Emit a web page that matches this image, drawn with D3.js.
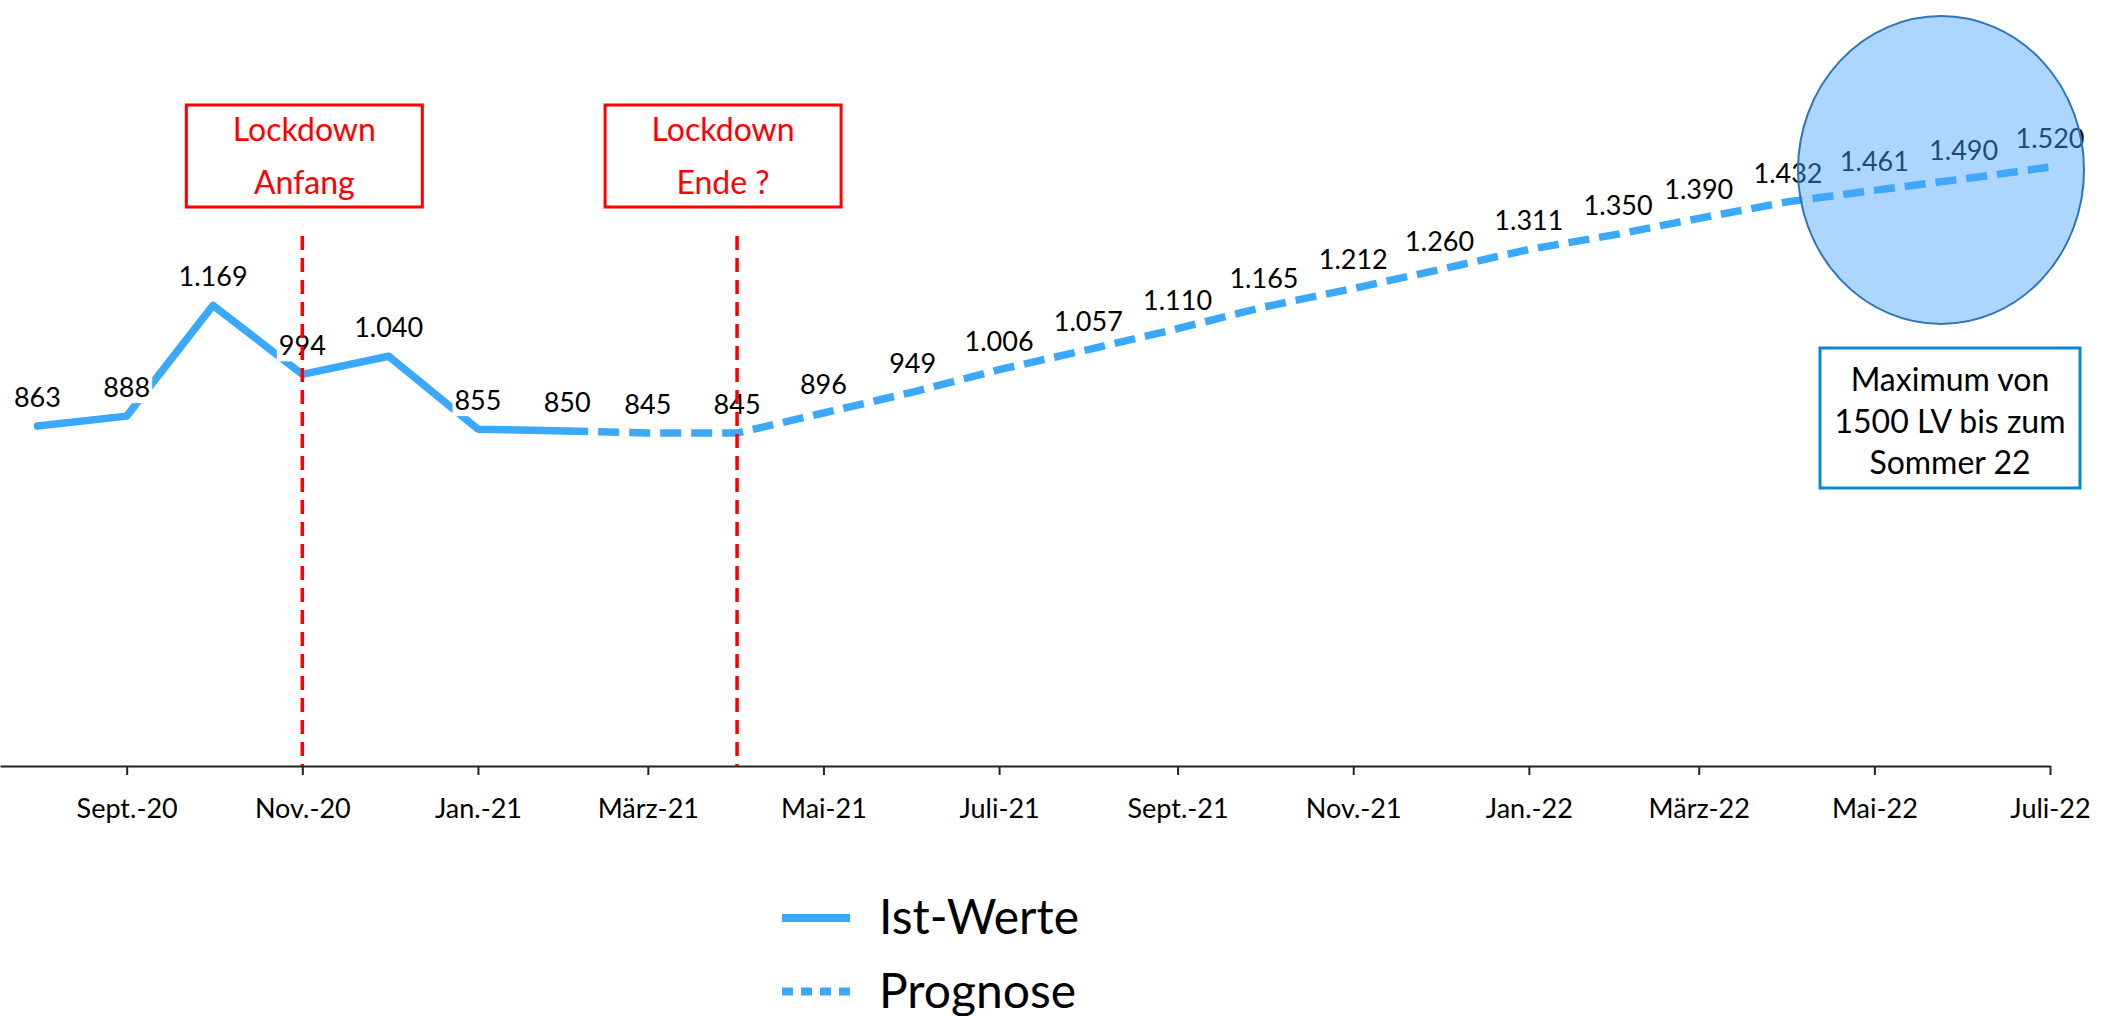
<!DOCTYPE html>
<html>
<head>
<meta charset="utf-8">
<script src="https://cdn.jsdelivr.net/npm/d3@7"></script>
<style>
  html, body { margin: 0; padding: 0; background: #fff; }
  svg text { font-family: Lato, "Open Sans", sans-serif; }
</style>
</head>
<body>
<svg id="chart"></svg>
<script>
// monthly values, Aug 2020 - Jul 2022
var months = ["2020-08", "2020-09", "2020-10", "2020-11", "2020-12", "2021-01", "2021-02",
              "2021-03", "2021-04", "2021-05", "2021-06", "2021-07", "2021-08", "2021-09",
              "2021-10", "2021-11", "2021-12", "2022-01", "2022-02", "2022-03", "2022-04",
              "2022-05", "2022-06", "2022-07"]
var istWerte = [863, 888, 1169, 994, 1040, 855, 850]
var prognose = [850, 845, 845, 896, 949, 1006, 1057, 1110, 1165, 1212, 1260, 1311,
                1350, 1390, 1432, 1461, 1490, 1520]
var tickLabels = ["Sept.-20", "Nov.-20", "Jan.-21", "März-21", "Mai-21", "Juli-21",
                  "Sept.-21", "Nov.-21", "Jan.-22", "März-22", "Mai-22", "Juli-22"]
var lockdowns = [
  { date: "2020-11", lines: ["Lockdown", "Anfang"], shift: 2 },
  { date: "2021-04", lines: ["Lockdown", "Ende ?"], shift: -14 }
]
var noteLines = ["Maximum von", "1500 LV bis zum", "Sommer 22"]
var legendItems = ["Ist-Werte", "Prognose"]

var dimensions = {
  width: 2101,
  height: 1016,
  axisY: 766
}

var parseMonth = d3.utcParse("%Y-%m")
var blue = "#3aa9fc"

var istData = istWerte.map((v, i) => ({ date: parseMonth(months[i]), value: v }))
var progStart = istWerte.length - 1
var progData = prognose.map((v, i) => ({ date: parseMonth(months[progStart + i]), value: v }))
// one label per month
var labelData = istData.concat(progData.slice(1))

var svg = d3.select("#chart")
  .attr("width", dimensions.width)
  .attr("height", dimensions.height)

var xScale = d3.scaleUtc()
  .domain([new Date(Date.UTC(2020, 6, 19)), new Date(Date.UTC(2022, 6, 1))])
  .range([0, 2050])

var yScale = d3.scaleLinear()
  .domain([0, 1600])
  .range([dimensions.axisY, dimensions.axisY - 1600 * 0.394])

var fmt = d3.formatLocale({ decimal: ",", thousands: ".", grouping: [3], currency: ["", "€"] }).format(",d")

// x axis
var tickValues = xScale.ticks(d3.utcMonth.every(2))
var xAxisGen = d3.axisBottom(xScale)
  .tickValues(tickValues)
  .tickSizeInner(9)
  .tickSizeOuter(0)
  .tickFormat((d, i) => tickLabels[i])

var xAxis = svg.append("g")
  .attr("transform", `translate(0,${dimensions.axisY})`)
  .call(xAxisGen)
xAxis.select(".domain").attr("stroke", "#222").attr("stroke-width", 2)
xAxis.selectAll(".tick line").attr("stroke", "#222").attr("stroke-width", 2)
xAxis.selectAll(".tick text")
  .attr("y", 52)
  .attr("dy", 0)
  .attr("fill", "#000")
  .style("font-size", "27px")

// lines
var lineGen = d3.line()
  .x(d => xScale(d.date))
  .y(d => yScale(d.value))

svg.append("path")
  .datum(istData)
  .attr("d", lineGen)
  .attr("fill", "none")
  .attr("stroke", blue)
  .attr("stroke-width", 7.5)
  .attr("stroke-linejoin", "round")
  .attr("stroke-linecap", "round")

svg.append("path")
  .datum(progData)
  .attr("d", lineGen)
  .attr("fill", "none")
  .attr("stroke", blue)
  .attr("stroke-width", 7.5)
  .attr("stroke-dasharray", "21,10")

// data labels with white boxes
var labels = svg.append("g")
  .selectAll("g")
  .data(labelData)
  .enter()
  .append("g")

labels.append("rect").attr("fill", "#fff")
labels.append("text")
  .attr("x", d => xScale(d.date))
  .attr("y", d => yScale(d.value) - 19)
  .attr("text-anchor", "middle")
  .attr("fill", "#000")
  .style("font-size", "27px")
  .text(d => fmt(d.value))

labels.each(function () {
  var g = d3.select(this)
  var b = g.select("text").node().getBBox()
  g.select("rect")
    .attr("x", b.x - 2)
    .attr("y", b.y + 2)
    .attr("width", b.width + 4)
    .attr("height", b.height - 2)
})

// lockdown markers
lockdowns.forEach(function (l) {
  var x = xScale(parseMonth(l.date))
  svg.append("line")
    .attr("x1", x).attr("x2", x)
    .attr("y1", 236).attr("y2", dimensions.axisY)
    .attr("stroke", "#ff0000")
    .attr("stroke-width", 3.5)
    .attr("stroke-dasharray", "14,8")

  var bx = x + l.shift - 118
  svg.append("rect")
    .attr("x", bx).attr("y", 105)
    .attr("width", 236).attr("height", 102)
    .attr("fill", "#fff")
    .attr("stroke", "#ff0000")
    .attr("stroke-width", 3)
  svg.selectAll(null)
    .data(l.lines)
    .enter()
    .append("text")
    .attr("x", bx + 118)
    .attr("y", (d, i) => 141 + i * 53)
    .attr("text-anchor", "middle")
    .attr("fill", "#ff0000")
    .style("font-size", "32px")
    .text(d => d)
})

// highlight ellipse
svg.append("ellipse")
  .attr("cx", 1941).attr("cy", 170)
  .attr("rx", 143).attr("ry", 154)
  .attr("fill", "rgb(70,165,255)")
  .attr("fill-opacity", 0.45)
  .attr("stroke", "#2e75b6")
  .attr("stroke-width", 2)

// note box
svg.append("rect")
  .attr("x", 1820).attr("y", 348)
  .attr("width", 260).attr("height", 140)
  .attr("fill", "#fff")
  .attr("stroke", "#0a88cc")
  .attr("stroke-width", 3)
svg.selectAll(null)
  .data(noteLines)
  .enter()
  .append("text")
  .attr("x", 1950)
  .attr("y", (d, i) => 391 + i * 41.5)
  .attr("text-anchor", "middle")
  .attr("fill", "#000")
  .style("font-size", "32px")
  .text(d => d)

// legend
var legend = svg.append("g")
  .selectAll("g")
  .data(legendItems)
  .enter()
  .append("g")
  .attr("transform", (d, i) => `translate(782,${918 + i * 73.5})`)

legend.append("line")
  .attr("x1", 0).attr("x2", 68)
  .attr("stroke", blue)
  .attr("stroke-width", 8)
  .attr("stroke-dasharray", (d, i) => i === 0 ? null : "11,8")

legend.append("text")
  .attr("x", 97)
  .attr("y", 16)
  .attr("fill", "#000")
  .style("font-size", "48px")
  .text(d => d)
</script>
</body>
</html>
